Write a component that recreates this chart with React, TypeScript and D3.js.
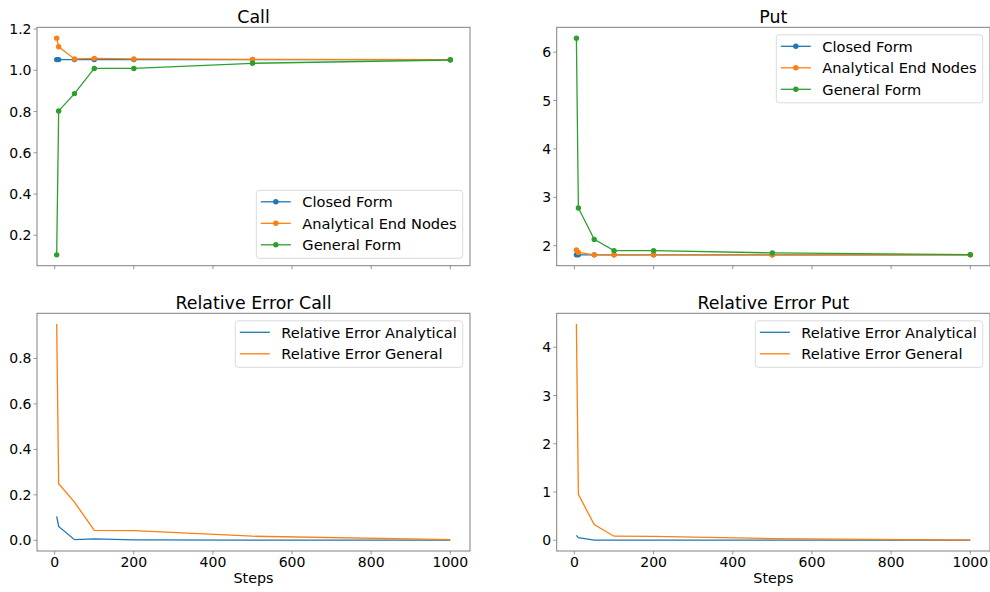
import React, { useEffect, useRef } from 'react';
import * as d3 from 'd3';

// Steps on the x axis
const steps = [5, 10, 50, 100, 200, 500, 1000];

// Call prices
const callClosed = [1.052, 1.052, 1.052, 1.052, 1.052, 1.052, 1.052];
const callAnalytical = [1.156, 1.114, 1.055, 1.058, 1.055, 1.053, 1.052];
const callGeneral = [0.105, 0.803, 0.887, 1.009, 1.009, 1.034, 1.05];

// Put prices
const putClosed = [1.81, 1.81, 1.81, 1.81, 1.81, 1.81, 1.81];
const putAnalytical = [1.91, 1.86, 1.81, 1.81, 1.81, 1.81, 1.81];
const putGeneral = [6.29, 2.78, 2.13, 1.897, 1.897, 1.85, 1.815];

// Relative errors
const relCallAnalytical = [0.105, 0.061, 0.003, 0.006, 0.002, 0.001, 0.0005];
const relCallGeneral = [0.951, 0.249, 0.168, 0.044, 0.043, 0.018, 0.003];
const relPutAnalytical = [0.1, 0.055, 0.002, 0.002, 0.002, 0.001, 0.0005];
const relPutGeneral = [4.48, 0.95, 0.325, 0.083, 0.08, 0.035, 0.003];

const xTicks = [0, 200, 400, 600, 800, 1000];
const callTicks = [0.2, 0.4, 0.6, 0.8, 1.0, 1.2];
const putTicks = [2, 3, 4, 5, 6];
const relCallTicks = [0.0, 0.2, 0.4, 0.6, 0.8];
const relPutTicks = [0, 1, 2, 3, 4];

const priceLabels = ['Closed Form', 'Analytical End Nodes', 'General Form'];
const errorLabels = ['Relative Error Analytical', 'Relative Error General'];

const colors = ['#1f77b4', '#ff7f0e', '#2ca02c'];
const FONT = '"DejaVu Sans", sans-serif';

type Panel = {
  title: string;
  box: [number, number, number, number]; // x0, y0, x1, y1
  series: number[][];
  labels: string[];
  markers: boolean;
  yTicks: number[];
  fmt: (d: number) => string;
  legend: 'upper right' | 'lower right';
  xLabels: boolean;
};

const panels: Panel[] = [
  { title: 'Call', box: [37, 27.3, 470, 265.7], series: [callClosed, callAnalytical, callGeneral], labels: priceLabels, markers: true, yTicks: callTicks, fmt: d3.format('.1f'), legend: 'lower right', xLabels: false },
  { title: 'Put', box: [556.7, 27.3, 990, 265.7], series: [putClosed, putAnalytical, putGeneral], labels: priceLabels, markers: true, yTicks: putTicks, fmt: d3.format('d'), legend: 'upper right', xLabels: false },
  { title: 'Relative Error Call', box: [37, 313.3, 470, 551], series: [relCallAnalytical, relCallGeneral], labels: errorLabels, markers: false, yTicks: relCallTicks, fmt: d3.format('.1f'), legend: 'upper right', xLabels: true },
  { title: 'Relative Error Put', box: [556.7, 313.3, 990, 551], series: [relPutAnalytical, relPutGeneral], labels: errorLabels, markers: false, yTicks: relPutTicks, fmt: d3.format('d'), legend: 'upper right', xLabels: true },
];

function padded(lo: number, hi: number): [number, number] {
  const m = (hi - lo) * 0.05;
  return [lo - m, hi + m];
}

const App = () => {
  const ref = useRef<SVGSVGElement>(null);

  useEffect(() => {
    document.body.style.margin = '0';
    const svg = d3.select(ref.current);
    svg.selectAll('*').remove();

    panels.forEach((p) => {
      const [x0, y0, x1, y1] = p.box;
      const x = d3.scaleLinear().domain(padded(d3.min(steps)!, d3.max(steps)!)).range([x0, x1]);
      const all = p.series.flat();
      const y = d3.scaleLinear().domain(padded(d3.min(all)!, d3.max(all)!)).range([y1, y0]);
      const g = svg.append('g');

      // lines
      const line = d3.line<number>().x((_, i) => x(steps[i])).y((d) => y(d));
      p.series.forEach((s, k) => {
        g.append('path').attr('d', line(s)).attr('fill', 'none')
          .attr('stroke', colors[k]).attr('stroke-width', 1.3);
        if (p.markers) {
          g.selectAll(null).data(s).enter().append('circle')
            .attr('cx', (_, i) => x(steps[i])).attr('cy', (d) => y(d))
            .attr('r', 2.7).attr('fill', colors[k]);
        }
      });

      // spines
      g.append('rect').attr('x', x0).attr('y', y0).attr('width', x1 - x0).attr('height', y1 - y0)
        .attr('fill', 'none').attr('stroke', '#808080').attr('stroke-width', 1);

      // x ticks
      xTicks.forEach((t) => {
        g.append('line').attr('x1', x(t)).attr('x2', x(t)).attr('y1', y1).attr('y2', y1 + 3.5)
          .attr('stroke', '#808080').attr('stroke-width', 0.8);
        if (p.xLabels) {
          g.append('text').attr('x', x(t)).attr('y', y1 + 16).attr('text-anchor', 'middle')
            .attr('font-family', FONT).attr('font-size', 14).attr('fill', '#000').text(String(t));
        }
      });
      if (p.xLabels) {
        g.append('text').attr('x', (x0 + x1) / 2).attr('y', 582.5).attr('text-anchor', 'middle')
          .attr('font-family', FONT).attr('font-size', 14.3).attr('fill', '#000').text('Steps');
      }

      // y ticks
      p.yTicks.forEach((t) => {
        g.append('line').attr('x1', x0 - 3.5).attr('x2', x0).attr('y1', y(t)).attr('y2', y(t))
          .attr('stroke', '#808080').attr('stroke-width', 0.8);
        g.append('text').attr('x', x0 - 5.5).attr('y', y(t)).attr('dy', '0.36em').attr('text-anchor', 'end')
          .attr('font-family', FONT).attr('font-size', 14).attr('fill', '#000').text(p.fmt(t));
      });

      // title
      g.append('text').attr('x', (x0 + x1) / 2).attr('y', y0 - 4.3).attr('text-anchor', 'middle')
        .attr('font-family', FONT).attr('font-size', 17.4).attr('fill', '#000').text(p.title);

      // legend
      const lg = g.append('g');
      const frame = lg.append('rect').attr('rx', 3).attr('fill', 'white').attr('fill-opacity', 0.8)
        .attr('stroke', '#d0d0d0').attr('stroke-width', 0.8);
      const rowH = 21.5;
      const texts = p.labels.map((lab, k) => {
        const cy = 11.5 + k * rowH;
        lg.append('line').attr('x1', 4.5).attr('x2', 34.5).attr('y1', cy).attr('y2', cy)
          .attr('stroke', colors[k]).attr('stroke-width', 1.3);
        if (p.markers) lg.append('circle').attr('cx', 19.5).attr('cy', cy).attr('r', 2.7).attr('fill', colors[k]);
        return lg.append('text').attr('x', 46).attr('y', cy).attr('dy', '0.36em')
          .attr('font-family', FONT).attr('font-size', 14.6).attr('fill', '#000').text(lab);
      });
      const tw = d3.max(texts, (t) => (t.node() as SVGTextElement).getComputedTextLength())!;
      const w = 46 + tw + 6;
      const h = 11.5 + (p.labels.length - 1) * rowH + 13.5;
      frame.attr('x', 0).attr('y', 0).attr('width', w).attr('height', h);
      const lx = x1 - 7.3 - w;
      const ly = p.legend === 'upper right' ? y0 + 7.5 : y1 - 7.4 - h;
      lg.attr('transform', `translate(${lx},${ly})`);
    });
  }, []);

  return <svg ref={ref} width={990} height={592} style={{ display: 'block', background: 'white' }} />;
};

export default App;
